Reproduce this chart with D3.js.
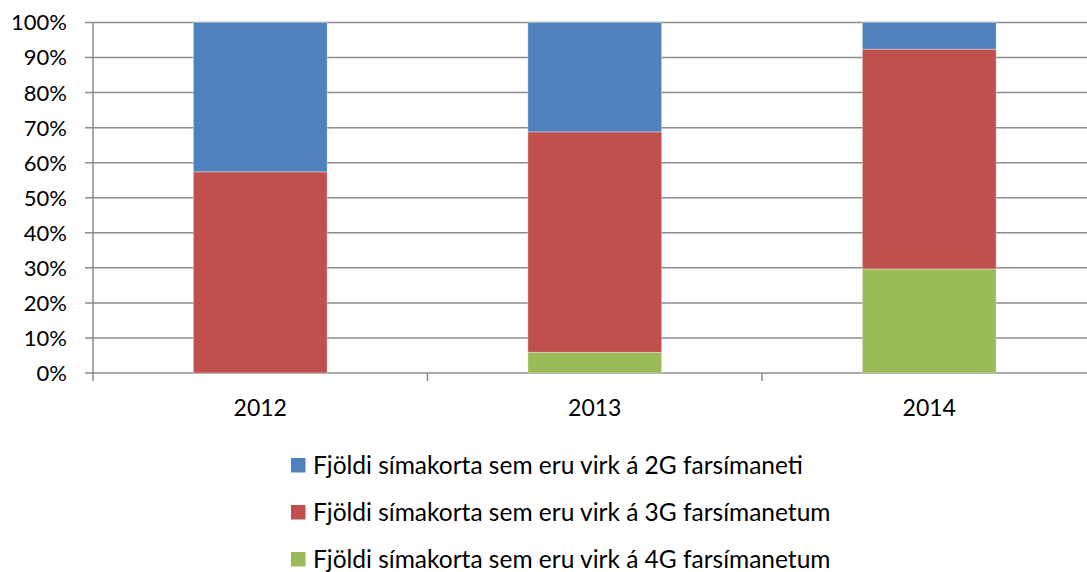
<!DOCTYPE html>
<html>
<head>
<meta charset="utf-8">
<script src="https://cdn.jsdelivr.net/npm/d3@7"></script>
<style>
  body { margin: 0; background: #fff; }
  text { font-family: Lato, "Open Sans", sans-serif; fill: #000; }
</style>
</head>
<body>
<svg id="chart"></svg>
<script>
const years = ["2012", "2013", "2014"];
const seriesNames = [
  "Fjöldi símakorta sem eru virk á 2G farsímaneti",
  "Fjöldi símakorta sem eru virk á 3G farsímanetum",
  "Fjöldi símakorta sem eru virk á 4G farsímanetum"
];
const share2G = [42.6, 31.2, 7.6];
const share3G = [57.4, 62.9, 62.7];
const share4G = [0, 5.9, 29.7];
const yTicks = [0, 10, 20, 30, 40, 50, 60, 70, 80, 90, 100];
const colors = ["#4F81BD", "#C0504D", "#9BBB59"];

const width = 1087, height = 572;
const svg = d3.select("#chart").attr("width", width).attr("height", height);

const x = d3.scaleBand().domain(years).range([93, 1096.5]).paddingInner(0).paddingOuter(0);
const y = d3.scaleLinear().domain([0, 100]).range([373, 22.5]);

// gridlines
svg.append("g").selectAll("line")
  .data(yTicks)
  .enter().append("line")
  .attr("x1", 85).attr("x2", 1096.5)
  .attr("y1", d => y(d)).attr("y2", d => y(d))
  .attr("stroke", "#8c8c8c").attr("stroke-width", 1.5);

// y axis line
svg.append("line")
  .attr("x1", 93).attr("x2", 93)
  .attr("y1", y(100)).attr("y2", y(0) + 8)
  .attr("stroke", "#8c8c8c").attr("stroke-width", 1.5);

// x ticks at category boundaries
svg.append("g").selectAll("line")
  .data(years.slice(1))
  .enter().append("line")
  .attr("x1", d => x(d)).attr("x2", d => x(d))
  .attr("y1", y(0)).attr("y2", y(0) + 8)
  .attr("stroke", "#8c8c8c").attr("stroke-width", 1.5);

// y labels
svg.append("g").selectAll("text")
  .data(yTicks)
  .enter().append("text")
  .attr("x", 67).attr("y", d => y(d))
  .attr("dy", "0.36em")
  .attr("text-anchor", "end")
  .style("font-size", "22px")
  .text(d => d + "%");

// x labels
svg.append("g").selectAll("text")
  .data(years)
  .enter().append("text")
  .attr("x", d => x(d) + x.bandwidth() / 2)
  .attr("y", 416)
  .attr("text-anchor", "middle")
  .style("font-size", "23px")
  .text(d => d);

// stacked bars
const table = years.map((yr, i) => ({ year: yr, s4: share4G[i], s3: share3G[i], s2: share2G[i] }));
const stack = d3.stack().keys(["s4", "s3", "s2"])(table);
const colorOf = { s2: colors[0], s3: colors[1], s4: colors[2] };
const barW = x.bandwidth() * 0.4;

stack.forEach(layer => {
  svg.append("g").selectAll("rect")
    .data(layer.filter(d => d[1] - d[0] > 0))
    .enter().append("rect")
    .attr("x", d => x(d.data.year) + (x.bandwidth() - barW) / 2)
    .attr("width", barW)
    .attr("y", d => y(d[1]))
    .attr("height", d => y(d[0]) - y(d[1]))
    .attr("fill", colorOf[layer.key])
    .attr("stroke", "rgba(255,255,255,0.35)")
    .attr("stroke-width", 1);
});

// legend
const legend = svg.append("g").attr("transform", "translate(291,0)");
seriesNames.forEach((name, i) => {
  const row = legend.append("g").attr("transform", `translate(0, ${465 + i * 47})`);
  row.append("rect")
    .attr("x", 0).attr("y", -7)
    .attr("width", 14.5).attr("height", 14.5)
    .attr("fill", colors[i]);
  row.append("text")
    .attr("x", 22).attr("y", 0)
    .attr("dy", "0.36em")
    .style("font-size", "24.5px")
    .text(name);
});
</script>
</body>
</html>
